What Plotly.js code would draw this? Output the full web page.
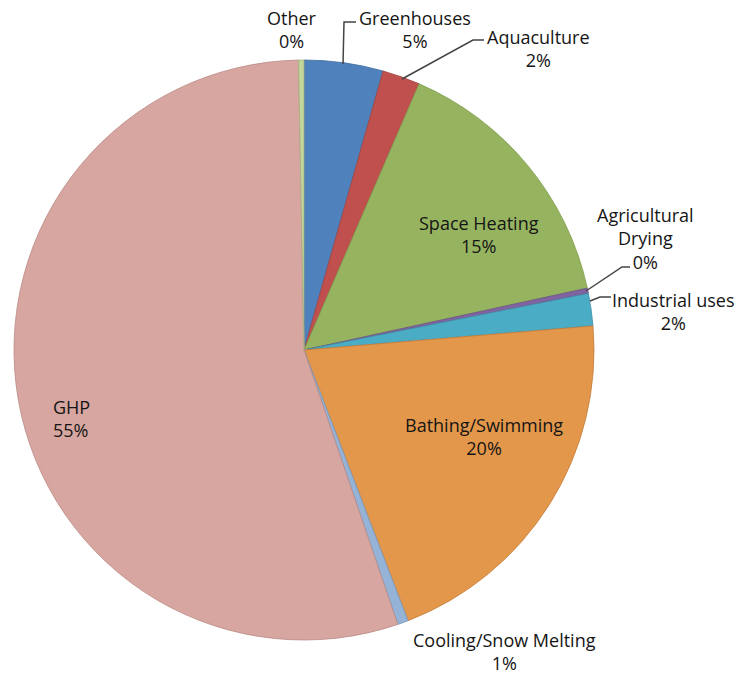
<!DOCTYPE html>
<html>
<head>
<meta charset="utf-8">
<script src="https://cdn.plot.ly/plotly-3.0.1.min.js"></script>
<style>html,body{margin:0;padding:0;background:#fff;}#chart{width:737px;height:674px;}</style>
</head>
<body>
<div id="chart"></div>
<script>
const categories = ["Greenhouses", "Aquaculture", "Space Heating", "Agricultural Drying", "Industrial uses", "Bathing/Swimming", "Cooling/Snow Melting", "GHP", "Other"];
const values = [4.4, 2.1, 15.1, 0.3, 1.8, 20.5, 0.6, 55.0, 0.3];
const pctLabels = ["5%", "2%", "15%", "0%", "2%", "20%", "1%", "55%", "0%"];
const colors = ["#4F81BD", "#C0504D", "#96B460", "#8064A2", "#4BACC6", "#E3974B", "#95B3D7", "#D8A6A0", "#C3D69B"];
const lineColors = ["#3F6C9E", "#A04240", "#7F9C4C", "#6A5387", "#3E8FA5", "#C47C38", "#7C95B3", "#B98A85", "#A2B281"];

const W = 737, H = 674;
const px = x => x / W;
const py = y => 1 - y / H;

// label placement (pixel positions) — index matches categories
const labelPos = [
  {x: 415, y: 30, anchor: "center"},
  {x: 538, y: 48, anchor: "center"},
  {x: 479, y: 234, anchor: "center"},
  {x: 645, y: 238, anchor: "center"},
  {x: 673, y: 311, anchor: "center"},
  {x: 484, y: 436, anchor: "center"},
  {x: 504, y: 651, anchor: "center"},
  {x: 51, y: 418, anchor: "left"},
  {x: 292, y: 30, anchor: "center"}
];
const labelText = [
  "Greenhouses", "Aquaculture", "Space Heating", "Agricultural<br>Drying", "Industrial uses",
  "Bathing/Swimming", "Cooling/Snow Melting", "GHP", "Other"
];

const annotations = categories.map((c, i) => ({
  x: px(labelPos[i].x), y: py(labelPos[i].y), xref: "paper", yref: "paper",
  text: labelText[i] + "<br>" + pctLabels[i],
  showarrow: false,
  xanchor: labelPos[i].anchor, yanchor: "middle",
  align: labelPos[i].anchor === "left" ? "left" : "center",
  font: {family: "Open Sans, sans-serif", size: 18, color: "#151515"}
}));

// leader lines (pixel polylines)
const leaders = [
  [[343, 64], [344, 22], [356, 22]],
  [[402, 79], [473, 40], [484, 40]],
  [[586, 291], [622, 267], [630, 267]],
  [[590, 301], [600, 297], [611, 297]]
];
const shapes = leaders.map(pts => ({
  type: "path", xref: "paper", yref: "paper",
  path: pts.map((p, k) => (k ? "L" : "M") + px(p[0]) + "," + py(p[1])).join(" "),
  line: {color: "#444444", width: 1.5}
}));

const data = [{
  type: "pie",
  labels: categories,
  values: values,
  sort: false,
  direction: "clockwise",
  rotation: 0,
  textinfo: "none",
  hoverinfo: "label+percent",
  marker: {colors: colors, line: {color: lineColors, width: 0.8}},
  domain: {x: [px(14), px(594)], y: [py(640), py(60)]},
  showlegend: false
}];

const layout = {
  width: W, height: H,
  margin: {l: 0, r: 0, t: 0, b: 0},
  paper_bgcolor: "#ffffff",
  showlegend: false,
  annotations: annotations,
  shapes: shapes
};

Plotly.newPlot("chart", data, layout, {displayModeBar: false, staticPlot: true});
</script>
</body>
</html>
